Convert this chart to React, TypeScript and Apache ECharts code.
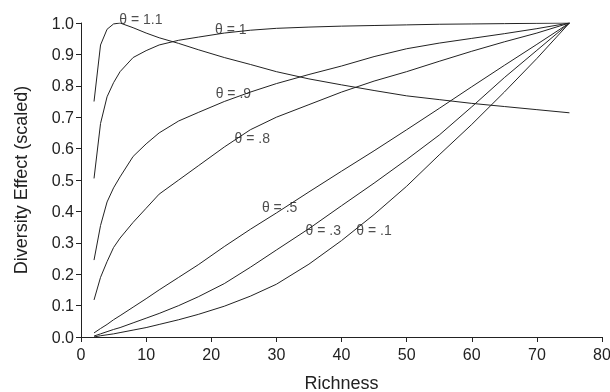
import React, { useEffect, useRef } from "react";
import * as echarts from "echarts";

const richness = [2, 3, 4, 5, 6, 8, 10, 12, 15, 18, 22, 26, 30, 35, 40, 45, 50, 55, 60, 65, 70, 75];

const theta11 = [0.75, 0.93, 0.98, 0.997, 1.0, 0.985, 0.968, 0.953, 0.935, 0.915, 0.89, 0.868, 0.845, 0.822, 0.803, 0.785, 0.768, 0.756, 0.744, 0.734, 0.724, 0.714];
const theta10 = [0.505, 0.68, 0.765, 0.81, 0.845, 0.89, 0.912, 0.93, 0.945, 0.955, 0.968, 0.977, 0.983, 0.987, 0.99, 0.992, 0.994, 0.996, 0.997, 0.998, 0.999, 1.0];
const theta09 = [0.245, 0.355, 0.43, 0.475, 0.51, 0.575, 0.615, 0.65, 0.688, 0.715, 0.75, 0.78, 0.807, 0.836, 0.863, 0.893, 0.918, 0.936, 0.951, 0.966, 0.982, 1.0];
const theta08 = [0.118, 0.19, 0.24, 0.285, 0.315, 0.365, 0.41, 0.455, 0.5, 0.545, 0.605, 0.66, 0.7, 0.74, 0.78, 0.815, 0.845, 0.878, 0.91, 0.94, 0.968, 1.0];
const theta05 = [0.013, 0.027, 0.04, 0.055, 0.068, 0.095, 0.122, 0.15, 0.19, 0.23, 0.288, 0.343, 0.395, 0.462, 0.528, 0.593, 0.66, 0.728, 0.797, 0.865, 0.932, 1.0];
const theta03 = [0.003, 0.01, 0.017, 0.024, 0.03, 0.045, 0.06, 0.075, 0.1, 0.128, 0.17, 0.222, 0.277, 0.345, 0.418, 0.49, 0.565, 0.643, 0.733, 0.826, 0.913, 1.0];
const theta01 = [0.0, 0.004, 0.007, 0.01, 0.014, 0.022, 0.03, 0.04, 0.055, 0.072, 0.098, 0.13, 0.168, 0.232, 0.307, 0.39, 0.48, 0.58, 0.677, 0.78, 0.887, 1.0];

const curveNames = ["θ = 1.1", "θ = 1", "θ = .9", "θ = .8", "θ = .5", "θ = .3", "θ = .1"];
const curveValues = [theta11, theta10, theta09, theta08, theta05, theta03, theta01];

// label anchor positions in data coordinates (richness, effect)
const labelX = [9.2, 23.0, 23.4, 26.3, 30.5, 37.2, 45.0];
const labelY = [1.013, 0.981, 0.777, 0.634, 0.414, 0.341, 0.341];

const FONT = "'Liberation Sans', Arial, Helvetica, sans-serif";
const INK = "#222";

export default function App() {
  const ref = useRef<HTMLDivElement>(null);
  useEffect(() => {
    if (!ref.current) return;
    const chart = echarts.init(ref.current, undefined, { renderer: "svg" });
    const lineSeries = curveValues.map((vals, i) => ({
      type: "line",
      name: curveNames[i],
      data: richness.map((x, j) => [x, vals[j]]),
      showSymbol: false,
      smooth: false,
      lineStyle: { color: INK, width: 1 },
      silent: true,
    }));
    chart.setOption({
      animation: false,
      textStyle: { fontFamily: FONT },
      grid: { left: 81, right: 8, top: 23, bottom: 55, containLabel: false, outerBoundsMode: "none" },
      xAxis: {
        type: "value",
        min: 0,
        max: 80,
        interval: 10,
        name: "Richness",
        nameLocation: "middle",
        nameGap: 37,
        nameTextStyle: { fontSize: 18, color: INK, fontFamily: FONT },
        axisLine: { show: true, lineStyle: { color: INK, width: 1 } },
        axisTick: { show: true, length: 5, lineStyle: { color: INK } },
        axisLabel: { fontSize: 16, color: INK, margin: 9, fontFamily: FONT },
        splitLine: { show: false },
      },
      yAxis: {
        type: "value",
        min: 0,
        max: 1,
        interval: 0.1,
        name: "Diversity Effect (scaled)",
        nameLocation: "middle",
        nameGap: 51,
        nameRotate: 90,
        nameTextStyle: { fontSize: 18, color: INK, fontFamily: FONT },
        axisLine: { show: true, lineStyle: { color: INK, width: 1 } },
        axisTick: { show: true, length: 5, lineStyle: { color: INK } },
        axisLabel: {
          fontSize: 16,
          color: INK,
          margin: 7,
          fontFamily: FONT,
          formatter: (v: number) => v.toFixed(1),
        },
        splitLine: { show: false },
      },
      series: [
        ...lineSeries,
        {
          type: "scatter",
          symbolSize: 0,
          clip: false,
          silent: true,
          data: curveNames.map((n, i) => ({ value: [labelX[i], labelY[i]], name: n })),
          label: {
            show: true,
            position: "inside",
            formatter: (p: any) => p.name,
            fontSize: 14,
            color: INK,
            fontFamily: FONT,
          },
        },
      ],
    });
    return () => chart.dispose();
  }, []);
  return <div ref={ref} style={{ position: "fixed", left: 0, top: 0, width: 610, height: 392 }} />;
}
